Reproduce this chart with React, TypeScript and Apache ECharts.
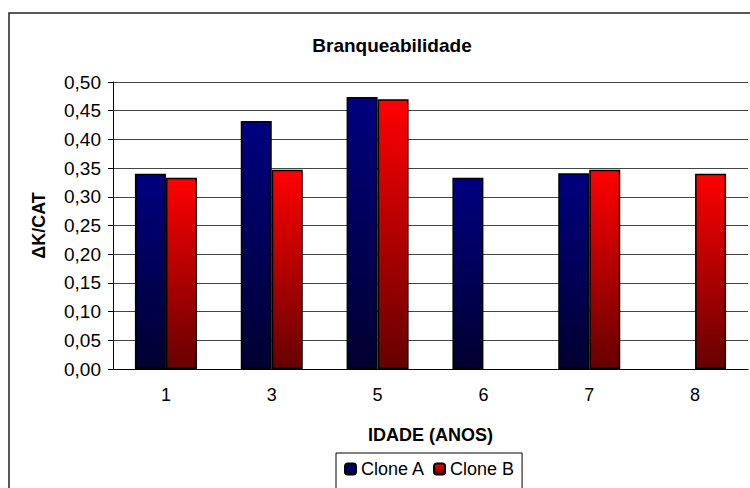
import React, { useEffect, useRef } from "react";
import * as echarts from "echarts";

const categories = ["1", "3", "5", "6", "7", "8"];
const cloneA = [0.34, 0.432, 0.474, 0.333, 0.341, null];
const cloneB = [0.333, 0.347, 0.47, null, 0.347, 0.34];
const yTicks = { min: 0, max: 0.5, interval: 0.05 };

const grad = (top: string, bottom: string) =>
  new echarts.graphic.LinearGradient(0, 0, 0, 1, [
    { offset: 0, color: top },
    { offset: 1, color: bottom },
  ]);

export default function App() {
  const ref = useRef<HTMLDivElement>(null);
  useEffect(() => {
    const chart = echarts.init(ref.current!, null, { renderer: "svg" });
    const font = "Liberation Sans, Arial, sans-serif";
    chart.setOption({
      animation: false,
      backgroundColor: "#fff",
      textStyle: { fontFamily: font },
      graphic: [
        {
          type: "rect",
          shape: { x: 9, y: 13, width: 800, height: 600 },
          style: { fill: "none", stroke: "#222", lineWidth: 1.5 },
          silent: true,
        },
      ],
      title: {
        text: "Branqueabilidade",
        left: 387,
        top: 31,
        textAlign: "center",
        textStyle: { fontSize: 19, fontWeight: "bold", color: "#000", fontFamily: font },
      },
      legend: {
        bottom: -20,
        left: 336,
        width: 188,
        padding: [7, 8, 30, 8],
        borderColor: "#000",
        borderWidth: 1,
        itemWidth: 11,
        itemHeight: 11,
        itemGap: 8,
        textStyle: { fontSize: 18, color: "#000", fontFamily: font },
        data: ["Clone A", "Clone B"],
      },
      grid: { left: 113, right: 2, top: 82, bottom: 119 },
      xAxis: {
        type: "category",
        data: categories,
        name: "IDADE (ANOS)",
        nameLocation: "middle",
        nameGap: 57,
        nameTextStyle: { fontSize: 18, fontWeight: "bold", color: "#000", fontFamily: font },
        axisLine: { lineStyle: { color: "#000" } },
        axisTick: { lineStyle: { color: "#000" }, length: 5 },
        axisLabel: { fontSize: 18, color: "#000", margin: 17 },
      },
      yAxis: {
        type: "value",
        min: yTicks.min,
        max: yTicks.max,
        interval: yTicks.interval,
        name: "\u0394K/CAT",
        nameLocation: "middle",
        nameGap: 65,
        nameTextStyle: { fontSize: 18, fontWeight: "bold", color: "#000", fontFamily: font },
        axisLine: { show: true, lineStyle: { color: "#000" } },
        axisTick: { show: true, lineStyle: { color: "#000" }, length: 5 },
        axisLabel: {
          fontSize: 19,
          color: "#000",
          margin: 12,
          formatter: (v: number) => v.toFixed(2).replace(".", ","),
        },
        splitLine: { lineStyle: { color: "#444" } },
      },
      series: [
        {
          name: "Clone A",
          type: "bar",
          data: cloneA,
          barWidth: 31,
          barGap: "0%",
          itemStyle: { color: grad("#000080", "#000030"), borderColor: "#000", borderWidth: 1.5 },
        },
        {
          name: "Clone B",
          type: "bar",
          data: cloneB,
          barWidth: 31,
          itemStyle: { color: grad("#ff0000", "#660000"), borderColor: "#000", borderWidth: 1.5 },
        },
      ],
    });
    return () => chart.dispose();
  }, []);
  return (
    <div
      ref={ref}
      style={{ position: "fixed", left: 0, top: 0, width: 750, height: 488 }}
    />
  );
}
